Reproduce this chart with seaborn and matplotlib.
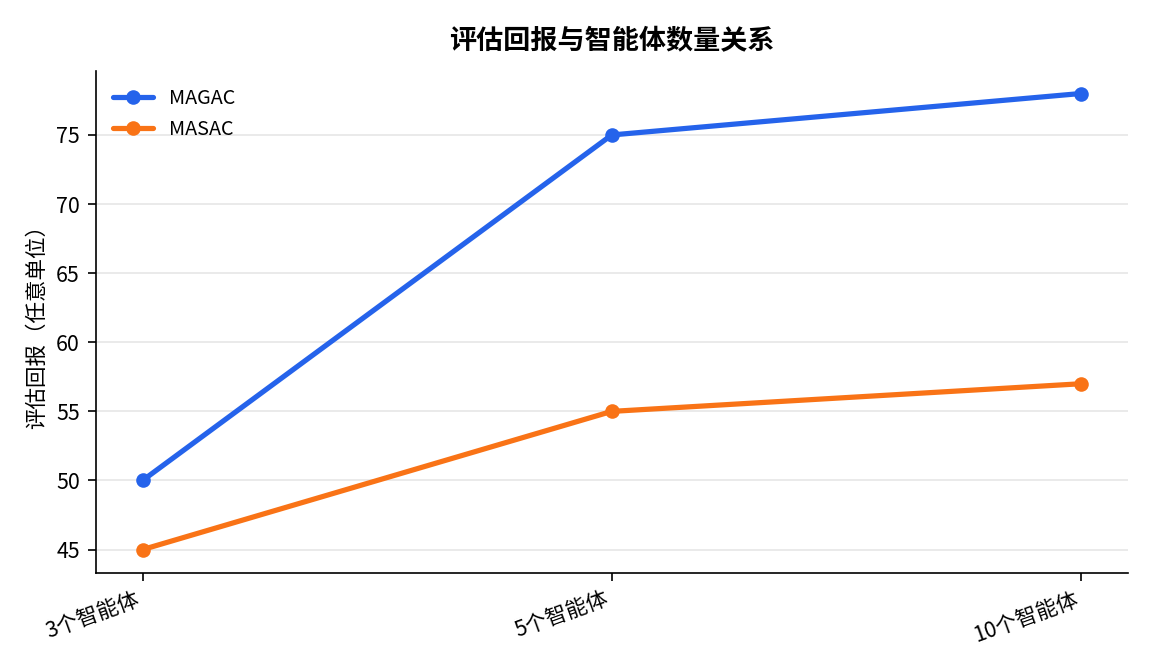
import matplotlib
matplotlib.use('Agg')
import matplotlib.pyplot as plt
import seaborn as sns
import pandas as pd

categories = ['3个智能体', '5个智能体', '10个智能体']
magac = [50, 75, 78]
masac = [45, 55, 57]

sns.set_style('white')
plt.rcParams['font.family'] = ['Noto Sans CJK SC', 'DejaVu Sans']
plt.rcParams['axes.unicode_minus'] = False
plt.rcParams['text.color'] = 'black'
plt.rcParams['axes.labelcolor'] = 'black'
plt.rcParams['axes.edgecolor'] = 'black'
plt.rcParams['xtick.color'] = 'black'
plt.rcParams['ytick.color'] = 'black'

df = pd.DataFrame({
    'agents': categories * 2,
    'reward': magac + masac,
    'method': ['MAGAC'] * 3 + ['MASAC'] * 3,
})

fig, ax = plt.subplots(figsize=(7.68, 4.48), dpi=150)
sns.lineplot(data=df, x='agents', y='reward', hue='method',
             palette={'MAGAC': '#2563EB', 'MASAC': '#F97316'},
             marker='o', markersize=7, markeredgewidth=0, linewidth=2.5,
             sort=False, ax=ax)

ax.set_title('评估回报与智能体数量关系', fontsize=13, fontweight='bold', pad=10)
ax.set_xlabel('')
ax.set_ylabel('评估回报（任意单位）', fontsize=10.3)
ax.grid(axis='y', color='#e6e6e6', linewidth=0.8)
ax.set_axisbelow(True)
sns.despine(ax=ax)
ax.tick_params(axis='both', labelsize=10.3, length=4, bottom=True, left=True)
plt.setp(ax.get_xticklabels(), rotation=20, ha='right')
ax.set_xlim(-0.1, 2.1)
ax.set_ylim(43.34, 79.66)
ax.legend(frameon=False, loc='upper left', fontsize=9.5, title=None)

fig.subplots_adjust(left=0.083, right=0.979, top=0.895, bottom=0.148)
fig.savefig('out.png', dpi=150)
